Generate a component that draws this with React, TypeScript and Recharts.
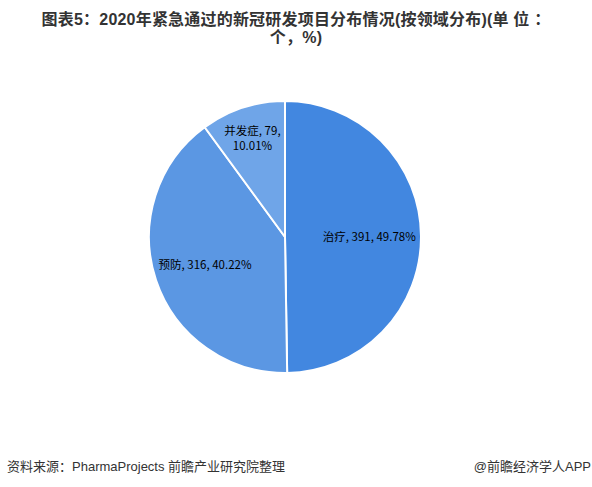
import React from 'react';
import { PieChart, Pie, Cell } from 'recharts';

const categories = ['治疗', '预防', '并发症'];
const counts = [391, 316, 79];
const shares = ['49.78%', '40.22%', '10.01%'];
const colors = ['#4287E0', '#5B97E3', '#6FA5E8'];

const chartData = categories.map((name, i) => ({
  name,
  value: counts[i],
  share: shares[i],
}));

const FONT = '"Noto Sans CJK SC", "Microsoft YaHei", sans-serif';
const MIXED = '"Liberation Sans", "Noto Sans CJK SC", sans-serif';
const RAD = Math.PI / 180;

const renderLabel = (props: any) => {
  const { cx, cy, midAngle, outerRadius, percent, index } = props;
  const d = chartData[index];
  // small slices get pushed further out, like the original
  const k = percent < 0.15 ? 0.77 : 0.62;
  const x = cx + outerRadius * k * Math.cos(-midAngle * RAD);
  const y = cy + outerRadius * k * Math.sin(-midAngle * RAD);
  const style = { fontSize: 11.5, fontFamily: FONT, fill: '#000' };
  if (percent < 0.15) {
    return (
      <g>
        <text x={x} y={y - 7} textAnchor="middle" dominantBaseline="central" style={style}>
          {`${d.name}, ${d.value},`}
        </text>
        <text x={x} y={y + 8} textAnchor="middle" dominantBaseline="central" style={style}>
          {d.share}
        </text>
      </g>
    );
  }
  return (
    <text x={x} y={y} textAnchor="middle" dominantBaseline="central" style={style}>
      {`${d.name}, ${d.value}, ${d.share}`}
    </text>
  );
};

export default function App() {
  return (
    <div style={{ position: 'absolute', left: 0, top: 0, width: 592, height: 487, background: '#fff', fontFamily: FONT }}>
      <div
        style={{
          position: 'absolute',
          left: 0,
          top: 11,
          width: 592,
          textAlign: 'center',
          fontSize: 16,
          fontWeight: 'bold',
          lineHeight: '18px',
          letterSpacing: 0.2,
          color: '#333',
          fontFamily: MIXED,
        }}
      >
        图表5：2020年紧急通过的新冠研发项目分布情况(按领域分布)(单 位 ：
        <br />
        个，%)
      </div>
      <PieChart
        width={592}
        height={487}
        margin={{ top: 0, right: 0, bottom: 0, left: 0 }}
        style={{ position: 'absolute', left: 0, top: 0 }}
      >
        <Pie
          data={chartData}
          dataKey="value"
          nameKey="name"
          cx={285}
          cy={237}
          outerRadius={136}
          startAngle={90}
          endAngle={-270}
          stroke="#fff"
          strokeWidth={2}
          label={renderLabel}
          labelLine={false}
          isAnimationActive={false}
        >
          {chartData.map((d, i) => (
            <Cell key={d.name} fill={colors[i]} />
          ))}
        </Pie>
      </PieChart>
      <div style={{ position: 'absolute', left: 7, top: 456, fontSize: 13, color: '#333', fontFamily: MIXED }}>
        资料来源：PharmaProjects 前瞻产业研究院整理
      </div>
      <div style={{ position: 'absolute', right: 1, top: 456, fontSize: 13, color: '#333', fontFamily: MIXED }}>
        @前瞻经济学人APP
      </div>
    </div>
  );
}
